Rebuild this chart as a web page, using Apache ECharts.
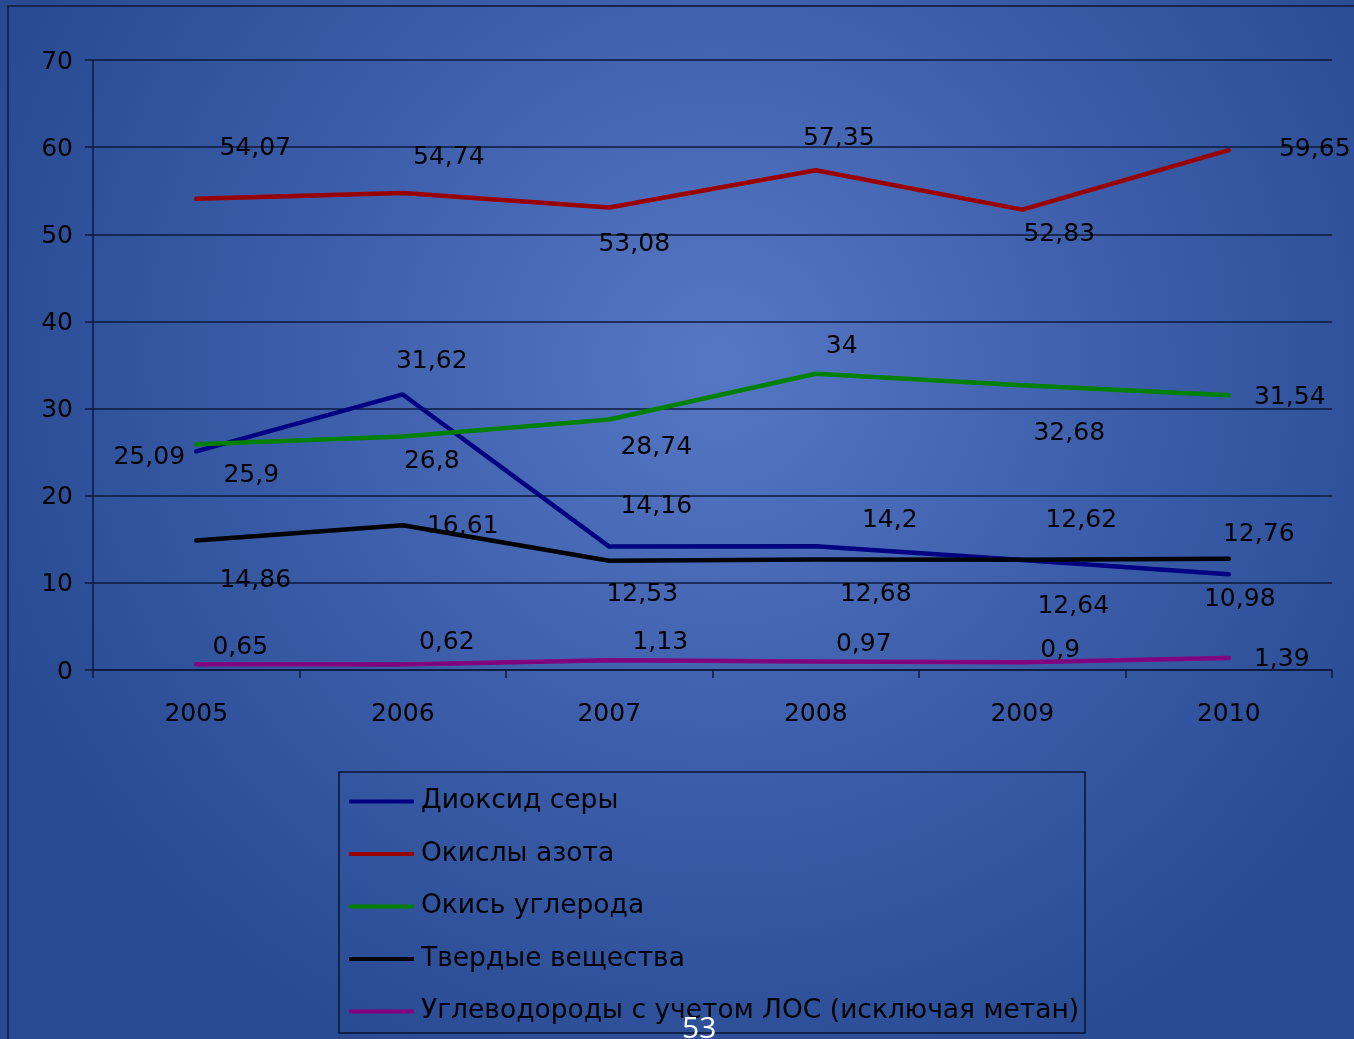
<!DOCTYPE html>
<html>
<head>
<meta charset="utf-8">
<script src="https://cdn.jsdelivr.net/npm/echarts@6/dist/echarts.min.js"></script>
<style>
  html, body { margin: 0; padding: 0; }
  #chart { width: 1354px; height: 1039px; }
</style>
</head>
<body>
<div id="chart"></div>
<script>
// Emissions by year, thousand tonnes
const years = ['2005', '2006', '2007', '2008', '2009', '2010'];
const seriesNames = [
  'Диоксид серы',
  'Окислы азота',
  'Окись углерода',
  'Твердые вещества',
  'Углеводороды с учетом ЛОС (исключая метан)'
];
const sulfurDioxide = [25.09, 31.62, 14.16, 14.2, 12.62, 10.98];
const nitrogenOxides = [54.07, 54.74, 53.08, 57.35, 52.83, 59.65];
const carbonMonoxide = [25.9, 26.8, 28.74, 34, 32.68, 31.54];
const solids = [14.86, 16.61, 12.53, 12.68, 12.64, 12.76];
const hydrocarbons = [0.65, 0.62, 1.13, 0.97, 0.9, 1.39];
const yTicks = [0, 10, 20, 30, 40, 50, 60, 70];

// Label placement offsets (px) relative to each point
const sulfurOffsets = [[-47, 6], [29, -33], [47, -40], [74, -26], [59, -40], [11, 25]];
const nitrogenOffsets = [[59, -50], [46, -35], [25, 37], [23, -32], [37, 25], [86, -1]];
const carbonOffsets = [[55, 31], [29, 25], [47, 28], [26, -27], [47, 48], [61, 2]];
const solidsOffsets = [[59, 40], [60, 1], [33, 34], [60, 35], [51, 47], [30, -24]];
const hydroOffsets = [[44, -17], [44, -22], [51, -18], [48, -17], [38, -12], [53, 2]];

const colors = ['#000080', '#990000', '#008000', '#000000', '#800080'];
const numFont = '"DejaVu Sans", Verdana, sans-serif';

function makeSeries(name, values, offsets, color) {
  return {
    name: name,
    type: 'line',
    data: values.map((v, i) => ({
      value: v,
      label: { offset: offsets[i] }
    })),
    symbol: 'circle',
    symbolSize: 1,
    showSymbol: true,
    lineStyle: { color: color, width: 4.5, cap: 'round', join: 'round' },
    itemStyle: { color: color },
    label: {
      show: true,
      position: 'inside',
      align: 'center',
      verticalAlign: 'middle',
      color: '#000',
      fontFamily: numFont,
      fontSize: 25,
      formatter: p => String(p.value).replace('.', ',')
    },
    emphasis: { disabled: true },
    animation: false
  };
}

const chart = echarts.init(document.getElementById('chart'), null, { renderer: 'canvas' });
chart.setOption({
  animation: false,
  backgroundColor: {
    type: 'radial', x: 0.53, y: 0.35, r: 0.75,
    colorStops: [
      { offset: 0, color: '#5678c4' },
      { offset: 0.55, color: '#3b5da9' },
      { offset: 1, color: '#274a92' }
    ]
  },
  grid: { left: 93, right: 22, top: 60, bottom: 369, containLabel: false },
  xAxis: {
    type: 'category',
    data: years,
    boundaryGap: true,
    axisLine: { show: true, lineStyle: { color: '#0d1a3a', width: 1.5 } },
    axisTick: { show: true, length: 8, inside: false, lineStyle: { color: '#0d1a3a', width: 1.5 } },
    axisLabel: { color: '#000', fontFamily: numFont, fontSize: 25, margin: 32 },
    splitLine: { show: false }
  },
  yAxis: {
    type: 'value',
    min: yTicks[0],
    max: yTicks[yTicks.length - 1],
    interval: 10,
    axisLine: { show: true, lineStyle: { color: '#0d1a3a', width: 1.5 } },
    axisTick: { show: true, length: 8, lineStyle: { color: '#0d1a3a', width: 1.5 } },
    axisLabel: {
      color: '#000', fontFamily: numFont, fontSize: 25, margin: 20,
      verticalAlign: 'top', lineHeight: 22, padding: [-9, 0, 0, 0]
    },
    splitLine: { show: true, lineStyle: { color: '#0d1a3a', width: 1.5 } }
  },
  legend: {
    orient: 'vertical',
    left: 349,
    top: 788,
    itemWidth: 65,
    itemHeight: 4,
    itemGap: 25.5,
    icon: 'roundRect',
    padding: 0,
    data: seriesNames,
    textStyle: {
      color: '#000',
      fontFamily: '"DejaVu Sans", sans-serif',
      fontSize: 26.5,
      lineHeight: 26,
      padding: [0, 0, 0, 2]
    },
    selectedMode: false
  },
  graphic: [
    {
      type: 'rect',
      shape: { x: 8, y: 6, width: 1420, height: 1100 },
      style: { fill: 'none', stroke: '#16264e', lineWidth: 2 },
      silent: true
    },
    {
      type: 'rect',
      shape: { x: 339, y: 772, width: 746, height: 261 },
      style: { fill: 'none', stroke: '#0a1530', lineWidth: 1.5 },
      silent: true
    },
    {
      type: 'text',
      left: 682,
      top: 1014,
      style: {
        text: '53',
        fill: '#ffffff',
        font: '30px "Open Sans", "Noto Sans", sans-serif'
      },
      z: 10,
      silent: true
    }
  ],
  series: [
    makeSeries(seriesNames[0], sulfurDioxide, sulfurOffsets, colors[0]),
    makeSeries(seriesNames[1], nitrogenOxides, nitrogenOffsets, colors[1]),
    makeSeries(seriesNames[2], carbonMonoxide, carbonOffsets, colors[2]),
    makeSeries(seriesNames[3], solids, solidsOffsets, colors[3]),
    makeSeries(seriesNames[4], hydrocarbons, hydroOffsets, colors[4])
  ]
});
</script>
</body>
</html>
